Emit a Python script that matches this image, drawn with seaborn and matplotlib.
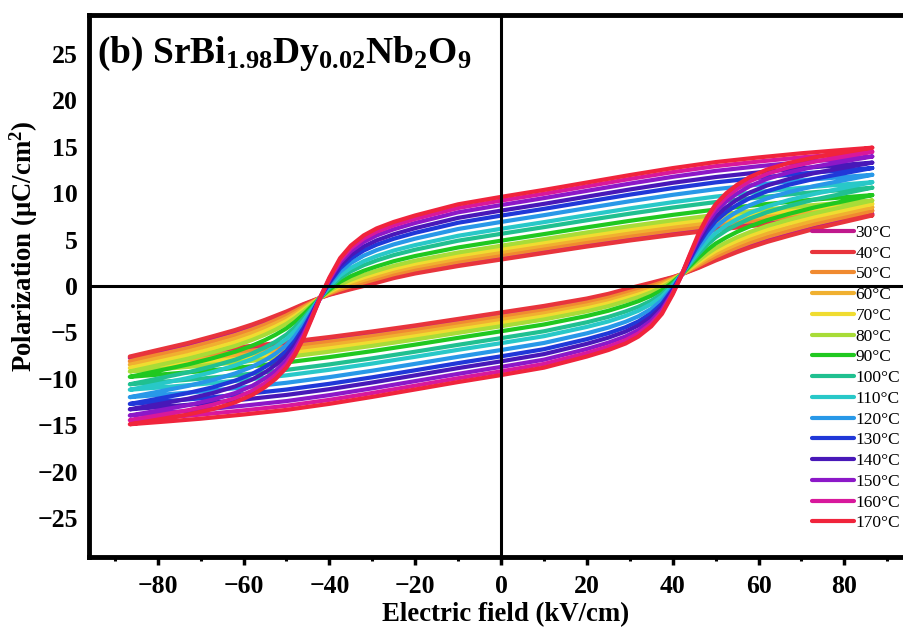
import matplotlib
matplotlib.use("Agg")
import matplotlib.pyplot as plt
import pandas as pd
import seaborn as sns
from matplotlib.ticker import MultipleLocator

# ── Data: upper (descending) branch of each P-E loop ──
# the lower branch is the point-mirror image of the upper one
E_UP = [86.5, 78, 70, 60, 50, 40, 30, 20, 10, 0, -10, -20, -25, -29, -32, -35,
        -37.5, -40, -42, -44, -46, -48, -50, -52.5, -55, -58, -62, -67, -73, -80, -86.5]

TEMPS = [30, 40, 50, 60, 70, 80, 90, 100, 110, 120, 130, 140, 150, 160, 170]

P_30 = [7.75, 7.45, 7.15, 6.7, 6.2, 5.64, 5.04, 4.39, 3.69, 2.99, 2.28, 1.48, 0.97, 0.47, 0.11, -0.26,
        -0.58, -0.91, -1.25, -1.64, -2.02, -2.45, -2.87, -3.34, -3.8, -4.3, -4.91, -5.56, -6.3, -7.05, -7.75]
P_40 = [7.6, 7.3, 7.0, 6.55, 6.05, 5.5, 4.9, 4.25, 3.55, 2.85, 2.15, 1.35, 0.85, 0.35, 0.0, -0.35,
        -0.65, -0.95, -1.25, -1.6, -1.95, -2.35, -2.75, -3.2, -3.65, -4.15, -4.75, -5.4, -6.15, -6.9, -7.6]
P_50 = [8.11, 7.81, 7.51, 7.06, 6.56, 6.0, 5.39, 4.73, 4.03, 3.32, 2.62, 1.79, 1.27, 0.76, 0.38, -0.02,
        -0.39, -0.82, -1.24, -1.73, -2.21, -2.7, -3.17, -3.68, -4.16, -4.68, -5.3, -5.95, -6.69, -7.43, -8.11]
P_60 = [8.48, 8.18, 7.88, 7.43, 6.93, 6.36, 5.75, 5.08, 4.37, 3.66, 2.95, 2.1, 1.58, 1.05, 0.65, 0.21,
        -0.21, -0.73, -1.23, -1.82, -2.39, -2.96, -3.48, -4.02, -4.52, -5.06, -5.69, -6.34, -7.07, -7.8, -8.48]
P_70 = [8.84, 8.54, 8.24, 7.79, 7.29, 6.72, 6.1, 5.42, 4.71, 4.0, 3.28, 2.41, 1.88, 1.35, 0.93, 0.45,
        -0.03, -0.63, -1.22, -1.91, -2.57, -3.21, -3.78, -4.36, -4.88, -5.44, -6.08, -6.74, -7.46, -8.18, -8.84]
P_80 = [9.21, 8.91, 8.61, 8.16, 7.66, 7.08, 6.45, 5.77, 5.05, 4.34, 3.61, 2.73, 2.18, 1.64, 1.2, 0.68,
        0.15, -0.54, -1.22, -2.0, -2.75, -3.46, -4.08, -4.7, -5.25, -5.82, -6.47, -7.13, -7.84, -8.55, -9.21]
P_90 = [9.79, 9.49, 9.19, 8.74, 8.24, 7.66, 7.02, 6.32, 5.59, 4.88, 4.15, 3.23, 2.67, 2.11, 1.64, 1.06,
        0.45, -0.4, -1.21, -2.14, -3.05, -3.87, -4.57, -5.24, -5.83, -6.43, -7.09, -7.76, -8.46, -9.15, -9.79]
P_100 = [10.59, 10.29, 9.99, 9.54, 9.04, 8.45, 7.79, 7.08, 6.34, 5.62, 4.88, 3.91, 3.33, 2.75, 2.24, 1.58,
         0.85, -0.19, -1.19, -2.34, -3.45, -4.42, -5.23, -5.99, -6.62, -7.27, -7.95, -8.62, -9.31, -9.98, -10.59]
P_110 = [11.18, 10.88, 10.58, 10.13, 9.63, 9.03, 8.36, 7.63, 6.88, 6.16, 5.41, 4.41, 3.82, 3.22, 2.67, 1.95,
         1.14, -0.04, -1.18, -2.48, -3.74, -4.83, -5.72, -6.53, -7.2, -7.87, -8.57, -9.25, -9.92, -10.58, -11.18]
P_120 = [11.98, 11.68, 11.38, 10.93, 10.43, 9.82, 9.13, 8.39, 7.63, 6.9, 6.14, 5.1, 4.48, 3.86, 3.27, 2.47,
         1.54, 0.16, -1.16, -2.68, -4.14, -5.38, -6.38, -7.28, -8.0, -8.71, -9.43, -10.11, -10.77, -11.4, -11.98]
P_130 = [12.71, 12.41, 12.11, 11.66, 11.16, 10.54, 9.84, 9.08, 8.31, 7.58, 6.81, 5.73, 5.09, 4.45, 3.82, 2.94,
         1.91, 0.35, -1.15, -2.86, -4.51, -5.89, -6.99, -7.96, -8.73, -9.47, -10.21, -10.9, -11.54, -12.15, -12.71]
P_140 = [13.29, 12.99, 12.69, 12.24, 11.74, 11.12, 10.4, 9.63, 8.85, 8.12, 7.34, 6.23, 5.57, 4.91, 4.25, 3.32,
         2.2, 0.49, -1.13, -3.0, -4.8, -6.29, -7.47, -8.5, -9.31, -10.08, -10.83, -11.52, -12.16, -12.75, -13.29]
P_150 = [13.95, 13.65, 13.35, 12.9, 12.4, 11.76, 11.03, 10.25, 9.47, 8.72, 7.94, 6.79, 6.11, 5.44, 4.74, 3.74,
         2.53, 0.66, -1.12, -3.17, -5.13, -6.74, -8.01, -9.12, -9.96, -10.76, -11.54, -12.23, -12.85, -13.43, -13.95]
P_160 = [14.46, 14.16, 13.86, 13.41, 12.91, 12.27, 11.53, 10.74, 9.94, 9.2, 8.4, 7.23, 6.54, 5.85, 5.12, 4.07,
         2.78, 0.79, -1.11, -3.29, -5.38, -7.1, -8.44, -9.59, -10.47, -11.29, -12.08, -12.78, -13.39, -13.95, -14.46]
P_170 = [14.9, 14.6, 14.3, 13.85, 13.35, 12.7, 11.95, 11.15, 10.35, 9.6, 8.8, 7.6, 6.9, 6.2, 5.45, 4.35,
         3.0, 0.9, -1.1, -3.4, -5.6, -7.4, -8.8, -10.0, -10.9, -11.75, -12.55, -13.25, -13.85, -14.4, -14.9]

UPPER = [P_30, P_40, P_50, P_60, P_70, P_80, P_90, P_100,
         P_110, P_120, P_130, P_140, P_150, P_160, P_170]

COLORS = ["#C0188C", "#E8343C", "#F08A30", "#F0B030", "#F0DC30",
          "#A8DC38", "#20C820", "#20C090", "#28C8C8", "#2898E8",
          "#2038D8", "#4818B8", "#8C18C8", "#D8189C", "#F0243C"]

LABELS = [f"{t}\u00b0C" for t in TEMPS]

# ── Long-form table: upper branch then mirrored lower branch ──
rows = []
for lab, p_up in zip(LABELS, UPPER):
    e_loop = E_UP + [-e for e in E_UP]
    p_loop = p_up + [-p for p in p_up]
    for e, p in zip(e_loop, p_loop):
        rows.append({"E": e, "P": p, "T": lab})
df = pd.DataFrame(rows)

# ── Style ──
sns.set_theme(style="white")
plt.rcParams["font.family"] = ["Liberation Serif", "DejaVu Serif"]
plt.rcParams["mathtext.fontset"] = "custom"
plt.rcParams["mathtext.rm"] = "Liberation Serif:bold"
plt.rcParams["mathtext.bf"] = "Liberation Serif:bold"
plt.rcParams["mathtext.it"] = "Liberation Serif:bold"
for key in ["text.color", "axes.labelcolor", "xtick.color", "ytick.color", "axes.edgecolor"]:
    plt.rcParams[key] = "black"

fig = plt.figure(figsize=(9.04, 6.32), dpi=100)
ax = fig.add_axes([0.0985, 0.1187, 0.9115, 0.8576])

sns.lineplot(data=df, x="E", y="P", hue="T", hue_order=LABELS,
             palette=dict(zip(LABELS, COLORS)), sort=False, estimator=None,
             lw=3.0, ax=ax, legend=True)
for ln in ax.get_lines():
    ln.set_solid_joinstyle("round")
    ln.set_solid_capstyle("round")

ax.axhline(0, color="black", lw=2.2, zorder=5)
ax.axvline(0, color="black", lw=2.2, zorder=5)

ax.set_xlim(-96, 96)
ax.set_ylim(-29.2, 29.2)
ax.xaxis.set_major_locator(MultipleLocator(20))
ax.xaxis.set_minor_locator(MultipleLocator(10))
ax.yaxis.set_major_locator(MultipleLocator(5))

for side in ax.spines.values():
    side.set_linewidth(3.5)
    side.set_color("black")

ax.tick_params(axis="x", which="major", direction="out", length=6, width=2.5,
               pad=7, labelsize=18.5, bottom=True)
ax.tick_params(axis="x", which="minor", direction="out", length=3, width=2.2,
               bottom=True)
ax.tick_params(axis="y", which="both", length=0, pad=8, labelsize=18.5)
for lbl in ax.get_xticklabels() + ax.get_yticklabels():
    lbl.set_fontweight("bold")

ax.set_xlabel("Electric field (kV/cm)", fontsize=19.3, fontweight="bold")
ax.set_ylabel(r"Polarization ($\mu$C/cm$^{2}$)", fontsize=19.3, fontweight="bold")
ax.xaxis.set_label_coords(0.506, -0.083)
ax.yaxis.set_label_coords(-0.0595, 0.574)

ax.text(0.01, 0.911,
        r"(b) SrBi$_{1.98}$Dy$_{0.02}$Nb$_{2}$O$_{9}$",
        transform=ax.transAxes, fontsize=27, fontweight="bold", va="baseline")

handles, labels = ax.get_legend_handles_labels()
leg = ax.legend(handles, labels, loc="upper left", bbox_to_anchor=(0.877, 0.613),
                frameon=False, fontsize=12.5, handlelength=2.42, handletextpad=0.1,
                labelspacing=0.265, borderpad=0, borderaxespad=0)
for ln in leg.get_lines():
    ln.set_linewidth(3.0)

fig.savefig("out.png", dpi=100, facecolor="white")
